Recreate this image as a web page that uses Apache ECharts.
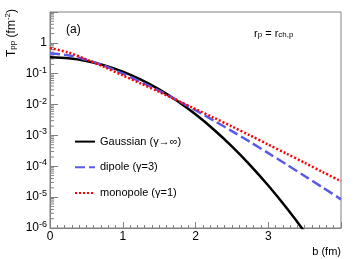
<!DOCTYPE html>
<html>
<head>
<meta charset="utf-8">
<script src="https://cdn.jsdelivr.net/npm/echarts@6/dist/echarts.min.js"></script>
<style>
html,body{margin:0;padding:0;background:#fff;}
#c{width:357px;height:259px;}
</style>
</head>
<body>
<div id="c"></div>
<script>
// impact parameter b (fm)
var bValues = [0, 0.25, 0.5, 0.75, 1.0, 1.25, 1.5, 1.75, 2.0, 2.25, 2.5, 2.75, 3.0, 3.25, 3.5, 3.75, 4.0];
// T_pp (fm^-2)
var gaussian = [0.339, 0.317, 0.260, 0.1864, 0.1171, 0.0644, 0.0310, 0.01307, 0.00483, 0.00156, 4.42e-4, 1.094e-4, 2.375e-5, 4.51e-6, 7.5e-7, 1.09e-7, 1.39e-8];
var dipole = [0.451, 0.398, 0.285, 0.1775, 0.1003, 0.0540, 0.0278, 0.01377, 0.00655, 0.00305, 1.38e-3, 6.15e-4, 2.68e-4, 1.147e-4, 4.86e-5, 2.04e-5, 8.49e-6];
var monopole = [0.677, 0.489, 0.291, 0.1631, 0.0878, 0.0478, 0.0257, 0.01359, 0.00715, 0.00377, 0.00195, 1.0e-3, 5.06e-4, 2.58e-4, 1.30e-4, 6.5e-5, 3.29e-5];
var seriesNames = ['Gaussian (\u03b3\u2192\u221e)', 'dipole (\u03b3=3)', 'monopole (\u03b3=1)'];
var xTickLabels = ['0', '1', '2', '3'];
var yDecades = [-6, -5, -4, -3, -2, -1, 0];

function pairs(ys) { return bValues.map(function (b, i) { return [b, ys[i]]; }); }

var minorY = [];
yDecades.forEach(function (d) { for (var k = 2; k <= 9; k++) minorY.push([0, k * Math.pow(10, d)]); });

var FONT = 'Liberation Sans, Arial, Helvetica, sans-serif';
var AX = '#808080';

var chart = echarts.init(document.getElementById('c'), null, {renderer: 'canvas'});
chart.setOption({
  animation: false,
  backgroundColor: '#fff',
  textStyle: {fontFamily: FONT},
  grid: {left: 50, right: 16, top: 12, bottom: 31, show: true, borderColor: AX, borderWidth: 1, backgroundColor: 'transparent'},
  xAxis: {
    type: 'value', min: 0, max: 4, interval: 1,
    axisLine: {lineStyle: {color: AX, width: 1}},
    axisTick: {inside: true, length: 6, lineStyle: {color: AX}},
    minorTick: {show: true, splitNumber: 10, length: 3, lineStyle: {color: AX}},
    splitLine: {show: false},
    axisLabel: {color: '#000', fontSize: 12, margin: 3, fontFamily: FONT,
      formatter: function (v) { var i = Math.round(v); return (Math.abs(v - i) < 1e-9 && i < xTickLabels.length) ? xTickLabels[i] : ''; }}
  },
  yAxis: {
    type: 'log', logBase: 10, min: 1e-6, max: 10, interval: 1,
    axisLine: {show: true, lineStyle: {color: AX, width: 1}},
    axisTick: {inside: true, length: 8, lineStyle: {color: AX}},
    splitLine: {show: false},
    axisLabel: {color: '#000', fontSize: 12, margin: 3, fontFamily: FONT,
      formatter: function (v) {
        var e = Math.round(Math.log10(v));
        if (e === 0) return '1';
        if (e > 0) return '';
        return '10{s|' + e + '}';
      },
      rich: {s: {fontSize: 9, padding: [0, 0, 7, 0], fontFamily: FONT, color: '#000'}}
    }
  },
  legend: {
    orient: 'vertical', left: 74, top: 136, padding: 0, itemWidth: 20, itemHeight: 14, itemGap: 14.5,
    itemStyle: {color: 'rgba(0,0,0,0)', borderColor: 'rgba(0,0,0,0)', borderWidth: 0},
    textStyle: {fontSize: 11, color: '#000', fontFamily: FONT},
    data: seriesNames
  },
  graphic: [
    {type: 'text', left: 66, top: 24, style: {text: '(a)', fontSize: 12, fill: '#000', fontFamily: FONT}},
    {type: 'text', left: 254, top: 28, style: {text: '{n|r}{s|p}{n| = r}{s|ch,p}', fontFamily: FONT, fill: '#000',
      rich: {n: {fontSize: 11, fontFamily: FONT, padding: [0, 0, 3, 0]}, s: {fontSize: 8, fontFamily: FONT}}}},
    {type: 'text', x: 13, y: 9, rotation: Math.PI / 2, style: {text: '{n|T}{s|pp}{n| (fm}{p|-2}{n|)}', align: 'right', verticalAlign: 'middle', fontFamily: FONT, fill: '#000',
      rich: {n: {fontSize: 12, fontFamily: FONT, padding: [0, 0, 3, 0]}, s: {fontSize: 8, fontFamily: FONT}, p: {fontSize: 8, fontFamily: FONT, padding: [0, 0, 11, 0]}}}},
    {type: 'text', right: 16, top: 246, style: {text: 'b (fm)', fontSize: 11, fill: '#000', fontFamily: FONT}}
  ],
  series: [
    {name: seriesNames[0], type: 'line', data: pairs(gaussian), smooth: 0.3, symbol: 'none', clip: true,
      lineStyle: {color: '#000', width: 2.5}, itemStyle: {color: '#000'}, z: 3},
    {name: seriesNames[1], type: 'line', data: pairs(dipole), smooth: 0.3, symbol: 'none', clip: true,
      lineStyle: {color: '#5a5ae6', width: 2.5, type: [10, 4]}, itemStyle: {color: '#5a5ae6'}, z: 4},
    {name: seriesNames[2], type: 'line', data: pairs(monopole), smooth: 0.3, symbol: 'none', clip: true,
      lineStyle: {color: '#ff0000', width: 2.5, type: [2, 2]}, itemStyle: {color: '#ff0000'}, z: 5},
    {type: 'custom', data: minorY, silent: true, z: 2, clip: false,
      renderItem: function (params, api) {
        var p = api.coord([0, api.value(1)]);
        return {type: 'line', shape: {x1: p[0], y1: p[1], x2: p[0] + 4, y2: p[1]}, style: {stroke: AX, lineWidth: 1}};
      }}
  ]
});
</script>
</body>
</html>
